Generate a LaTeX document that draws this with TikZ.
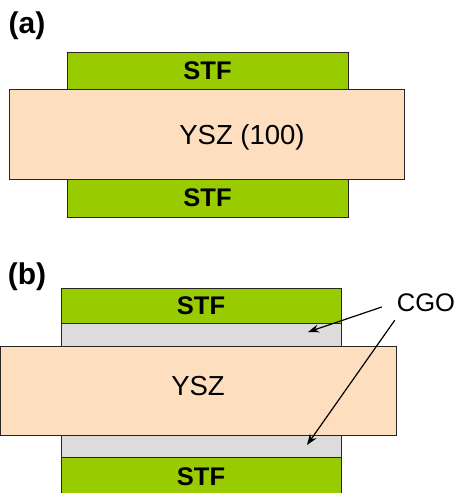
\documentclass[tikz,border=0pt]{standalone}
\usepackage{fontspec}
\setmainfont{Liberation Sans}
\usepackage{tikz}
\usetikzlibrary{arrows.meta}

\definecolor{stfgreen}{HTML}{99CC00}
\definecolor{yszpeach}{HTML}{FDDEBF}
\definecolor{cgogrey}{HTML}{DCDCDC}

\tikzset{
  layer/.style={draw=black!85, line width=1pt, inner sep=0pt,
                rectangle, font=\fontsize{25}{30}\selectfont},
  stflayer/.style={layer, fill=stfgreen, font=\fontsize{25.5}{30}\selectfont\bfseries},
  yszlayer/.style={layer, fill=yszpeach},
  cgolayer/.style={layer, fill=cgogrey},
  panel/.style={font=\fontsize{30}{34}\selectfont\bfseries, inner sep=0pt}
}

\begin{document}
\begin{tikzpicture}[x=1pt,y=-1pt]
\useasboundingbox (0,0) rectangle (458,493);
\clip (0,0) rectangle (458,493);

% panel (a): STF / YSZ (100) / STF
\node[panel] (labA) at (27,26) {(a)};
\node[stflayer, minimum width=281pt, minimum height=37pt] (stfA1) at (207.5,71) {STF};
\node[stflayer, minimum width=281pt, minimum height=38pt] (stfA2) at (207.5,198) {STF};
\node[yszlayer, minimum width=395pt, minimum height=90pt] (yszA) at (206.5,134) {};
\node[inner sep=0pt, font=\fontsize{27.5}{32}\selectfont] (yszAtext) at ([shift={(35.5,3)}]yszA.center) {YSZ (100)};

% panel (b): STF / CGO / YSZ / CGO / STF
\node[panel] (labB) at (27,277) {(b)};
\node[stflayer, minimum width=280pt, minimum height=35pt] (stfB1) at (201,305.5) {STF};
\node[cgolayer, minimum width=280pt, minimum height=24pt] (cgoB1) at (201,335) {};
\node[cgolayer, minimum width=280pt, minimum height=22pt] (cgoB2) at (201,446) {};
\node[stflayer, minimum width=280pt, minimum height=40pt] (stfB2) at (201,477) {STF};
\node[yszlayer, minimum width=396pt, minimum height=89pt] (yszB) at (198,390.5) {};
\node[inner sep=0pt, font=\fontsize{27.5}{32}\selectfont] (yszBtext) at ([yshift=4]yszB.center) {YSZ};

\node[inner sep=0pt, font=\fontsize{25.5}{30}\selectfont] (cgo) at (426,303) {CGO};
\coordinate (cgoTip1) at (308,332);
\coordinate (cgoTip2) at (307,445);
\coordinate (cgoFrom1) at ([shift={(-15,4)}]cgo.west);
\coordinate (cgoFrom2) at ([shift={(-2,8)}]cgo.south west);

\begin{scope}[>={Stealth[length=11pt,width=8pt]},
              every edge/.style={draw=black, line width=1.2pt}]
    \path [->] (cgoFrom1) edge (cgoTip1);
    \path [->] (cgoFrom2) edge (cgoTip2);
\end{scope}
\end{tikzpicture}
\end{document}
